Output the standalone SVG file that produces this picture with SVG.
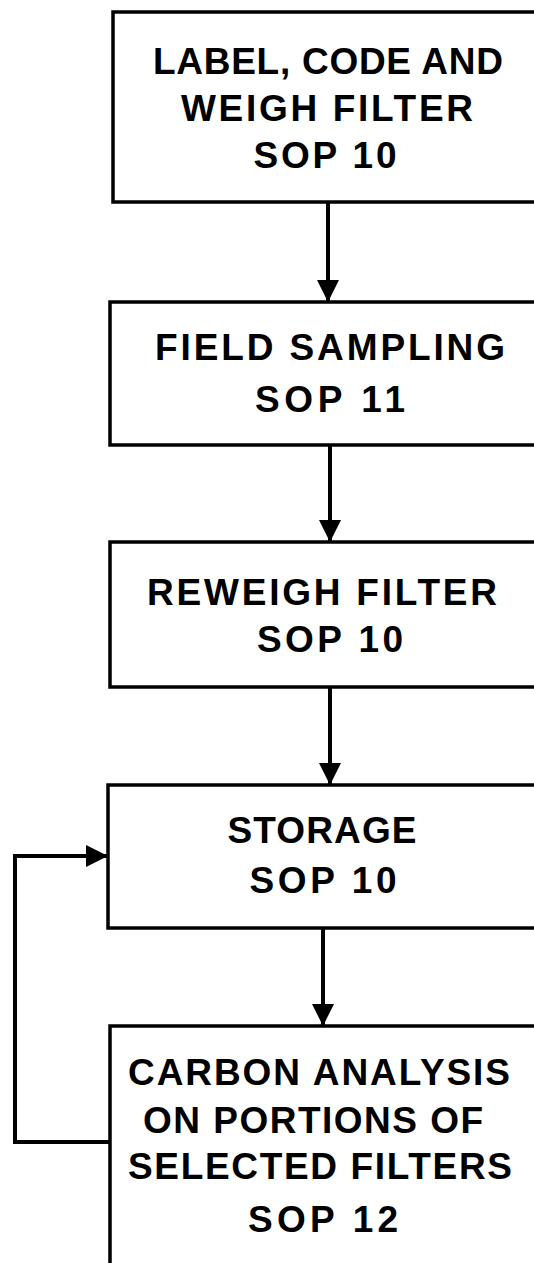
<svg xmlns="http://www.w3.org/2000/svg" width="534" height="1263" viewBox="0 0 534 1263">
<style>
.box{fill:#fff;stroke:#000;stroke-width:3.5}
.t{font-family:"Liberation Sans",Arial,sans-serif;font-weight:bold;font-size:37px;fill:#000;text-anchor:middle}
.c{fill:none;stroke:#000;stroke-width:4}
</style>
<defs>
<marker id="ah" viewBox="0 0 10 10" refX="10" refY="5" markerWidth="6" markerHeight="5.5" markerUnits="strokeWidth" orient="auto">
<path d="M0,0 L10,5 L0,10 z" fill="#000"/>
</marker>
</defs>
<rect width="534" height="1263" fill="#fff"/>
<g id="connectors">
<line class="c" x1="328" y1="202" x2="328" y2="302" marker-end="url(#ah)"/>
<line class="c" x1="330" y1="445" x2="330" y2="542" marker-end="url(#ah)"/>
<line class="c" x1="330" y1="687" x2="330" y2="785" marker-end="url(#ah)"/>
<line class="c" x1="323" y1="928" x2="323" y2="1026" marker-end="url(#ah)"/>
<polyline class="c" points="110,1142 15,1142 15,856 108,856" marker-end="url(#ah)"/>
</g>
<g id="n1">
<rect class="box" x="113" y="12" width="440" height="190"/>
<text class="t" x="328" y="74" textLength="350" lengthAdjust="spacing">LABEL, CODE AND</text>
<text class="t" x="327" y="121" textLength="292" lengthAdjust="spacing">WEIGH FILTER</text>
<text class="t" x="325" y="168" textLength="143" lengthAdjust="spacing">SOP 10</text>
</g>
<g id="n2">
<rect class="box" x="110" y="302" width="440" height="143"/>
<text class="t" x="330" y="360" textLength="350" lengthAdjust="spacing">FIELD SAMPLING</text>
<text class="t" x="330" y="412" textLength="150" lengthAdjust="spacing">SOP 11</text>
</g>
<g id="n3">
<rect class="box" x="110" y="542" width="440" height="145"/>
<text class="t" x="322" y="605" textLength="350" lengthAdjust="spacing">REWEIGH FILTER</text>
<text class="t" x="330" y="652" textLength="146" lengthAdjust="spacing">SOP 10</text>
</g>
<g id="n4">
<rect class="box" x="108" y="785" width="440" height="143"/>
<text class="t" x="322" y="843" textLength="189" lengthAdjust="spacing">STORAGE</text>
<text class="t" x="323" y="893" textLength="147" lengthAdjust="spacing">SOP 10</text>
</g>
<g id="n5">
<rect class="box" x="110" y="1026" width="440" height="260"/>
<text class="t" x="319" y="1085" textLength="382" lengthAdjust="spacing">CARBON ANALYSIS</text>
<text class="t" x="313" y="1133" textLength="340" lengthAdjust="spacing">ON PORTIONS OF</text>
<text class="t" x="320" y="1179" textLength="384" lengthAdjust="spacing">SELECTED FILTERS</text>
<text class="t" x="323" y="1232" textLength="150" lengthAdjust="spacing">SOP 12</text>
</g>
</svg>
